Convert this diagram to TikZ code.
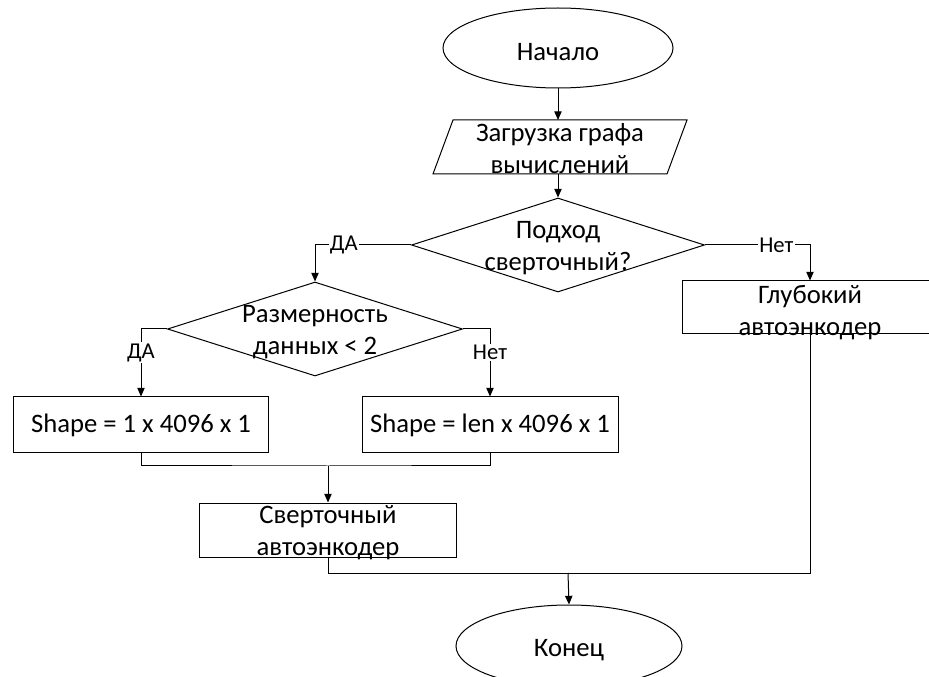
\documentclass[tikz,border=0pt]{standalone}
\usepackage{fontspec}
\setmainfont{Carlito}
\usetikzlibrary{shapes.geometric,arrows.meta,calc}

\tikzset{
  body/.style={font=\fontsize{20}{24}\selectfont, align=center, inner sep=0pt},
  tag/.style={font=\fontsize{17}{20}\selectfont, fill=white, inner sep=1pt},
  term/.style={draw, ellipse, inner sep=0pt},
  proc/.style={draw, rectangle, inner sep=0pt},
  decide/.style={draw, diamond, inner sep=0pt},
  io/.style={rectangle, inner sep=0pt, outer sep=0pt},
  arr/.style={-{Triangle[length=6.5pt,width=5.5pt]}}
}

\begin{document}
\begin{tikzpicture}[x=0.75pt,y=0.75pt,yscale=-1,xscale=1,line width=0.75pt]
\useasboundingbox (0,0) rectangle (929,677);
\clip (0,0) rectangle (929,677);

% Blocks
\node[term, minimum width=172.5pt, minimum height=60pt,
  label={[body,yshift=-3pt]center:Начало}] (start) at (558,48) {};
\node[io, minimum width=175.5pt, minimum height=40.5pt,
  label={[body,yshift=-1pt]center:Загрузка графа\\вычислений}] (load) at (560,147) {};
\draw ($(load.north west)+(10,0)$) -- ($(load.north east)+(10,0)$)
  -- ($(load.south east)+(-10,0)$) -- ($(load.south west)+(-10,0)$) -- cycle;
\node[decide, minimum width=219.75pt, minimum height=70.5pt,
  label={[body,yshift=-2pt]center:Подход\\сверточный?}] (q1) at (558,245) {};
\node[decide, minimum width=221.25pt, minimum height=70.5pt,
  label={[body,yshift=-2pt]center:Размерность\\данных < 2}] (q2) at (315,329) {};
\node[proc, minimum width=192pt, minimum height=39.75pt,
  label={[body,yshift=-4pt]center:Глубокий\\автоэнкодер}] (deep) at (810,307.5) {};
\node[proc, minimum width=191.25pt, minimum height=42pt,
  label={[body]center:Shape = 1 x 4096 x 1}] (boxa) at (141,425) {};
\node[proc, minimum width=192pt, minimum height=42pt,
  label={[body]center:Shape = len x 4096 x 1}] (boxb) at (490,425) {};
\node[proc, minimum width=192.75pt, minimum height=40.5pt,
  label={[body,yshift=-2pt]center:Сверточный\\автоэнкодер}] (conv) at (328,530) {};
\node[term, minimum width=169.5pt, minimum height=61.5pt,
  label={[body,yshift=-3pt]center:Конец}] (stop) at (569,646) {};

\coordinate (join) at (328,466);
\coordinate (bjoin) at (568,573);

% Connectors
\draw[arr] (start) -- (start |- load.north);
\draw[arr] (q1 |- load.south) -- (q1.north);
\draw[arr] (q1.west) -| node[tag, pos=0.35] (yes1) {ДА} (q2.north);
\draw[arr] (q1.east) -| node[tag, pos=0.34] (no1) {Нет} (deep.north);
\draw[arr] (q2.west) -| node[tag, pos=0.675] (yes2) {ДА} (boxa.north);
\draw[arr] (q2.east) -| node[tag, pos=0.675] (no2) {Нет} (boxb.north);
\draw (boxa.south) |- (join) -| (boxb.south);
\draw[arr] (join) -- (conv.north);
\draw (conv.south) |- (bjoin);
\draw (deep.south) |- (bjoin);
\draw[arr] (bjoin) -- (stop.north);

\end{tikzpicture}
\end{document}
